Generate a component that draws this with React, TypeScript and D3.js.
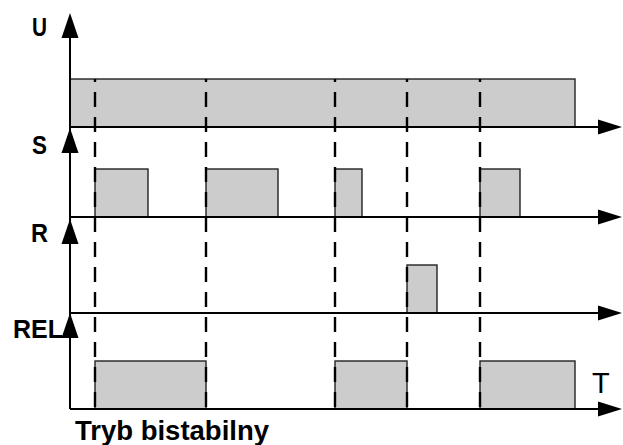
import React from "react";
import * as d3 from "d3";

// ---- data (time units) ----
const signalNames = ["U", "S", "R", "REL"];
const uPulses: [number, number][] = [[0, 101]];
const sPulses: [number, number][] = [[5, 15.6], [27.2, 41.6], [53, 58.4], [82, 90]];
const rPulses: [number, number][] = [[67.4, 73.4]];
const relPulses: [number, number][] = [[5, 27.2], [53, 67.4], [82, 101]];
const edgeTimes = [5, 27.2, 53, 67.4, 82];
const timeLabel = "T";
const caption = "Tryb bistabilny";

const pulsesByRow = [uPulses, sPulses, rPulses, relPulses];

const W = 623;
const H = 445;
const axisX = 70;
const rowBaselines = [127, 217, 313, 409];
const rowTops = [13, 128, 219, 313];
const labelBaselines = [36, 154, 242, 338];
const labelX = [32, 32, 31, 13];
const labelW = [15, 15, 17, 50];
const pulseH = 48;

export default function App() {
  const x = d3.scaleLinear().domain([0, 110]).range([axisX, 620]);
  const lvl = d3.scaleLinear().domain([0, 1]).range([0, -pulseH]);
  const arrowEnd = x(110.4);
  const font = "'Liberation Sans', Arial, sans-serif";

  return (
    <svg width={W} height={H} style={{ position: "absolute", left: 0, top: 0, background: "#fff" }}>
      {/* pulses */}
      {pulsesByRow.map((pulses, ri) =>
        pulses.map(([a, b], i) => (
          <rect
            key={`p${ri}-${i}`}
            x={x(a)}
            y={rowBaselines[ri] + lvl(1)}
            width={x(b) - x(a)}
            height={lvl(0) - lvl(1)}
            fill="#cccccc"
            stroke="#222"
            strokeWidth={1.4}
          />
        ))
      )}
      {/* dashed edges */}
      {edgeTimes.map((t, i) => (
        <line
          key={`e${i}`}
          x1={x(t)}
          x2={x(t)}
          y1={rowBaselines[0] + lvl(1)}
          y2={rowBaselines[3]}
          stroke="#000"
          strokeWidth={2.4}
          strokeDasharray="15 10"
          strokeDashoffset={12}
        />
      ))}
      {/* axes */}
      <line x1={axisX} x2={axisX} y1={rowTops[0] + 10} y2={rowBaselines[3]} stroke="#000" strokeWidth={2} />
      {rowBaselines.map((yb, i) => (
        <g key={`ax${i}`}>
          <line x1={axisX} x2={arrowEnd - 20} y1={yb} y2={yb} stroke="#000" strokeWidth={2.2} />
          <path d={`M${arrowEnd - 24},${yb - 7.5} L${arrowEnd},${yb} L${arrowEnd - 24},${yb + 7.5} Z`} fill="#000" />
          <path
            d={`M${axisX - 8.5},${rowTops[i] + 25} L${axisX},${rowTops[i]} L${axisX + 8.5},${rowTops[i] + 25} Z`}
            fill="#000"
          />
          <text
            x={labelX[i]}
            y={labelBaselines[i]}
            fontFamily={font}
            fontWeight="bold"
            fontSize={25}
            textLength={labelW[i]}
            lengthAdjust="spacingAndGlyphs"
            fill="#000"
          >
            {signalNames[i]}
          </text>
        </g>
      ))}
      <text x={592} y={393} fontFamily={font} fontSize={29} fill="#000">
        {timeLabel}
      </text>
      <text
        x={75}
        y={440}
        fontFamily={font}
        fontWeight="bold"
        fontSize={27}
        textLength={194}
        lengthAdjust="spacingAndGlyphs"
        fill="#000"
      >
        {caption}
      </text>
    </svg>
  );
}
